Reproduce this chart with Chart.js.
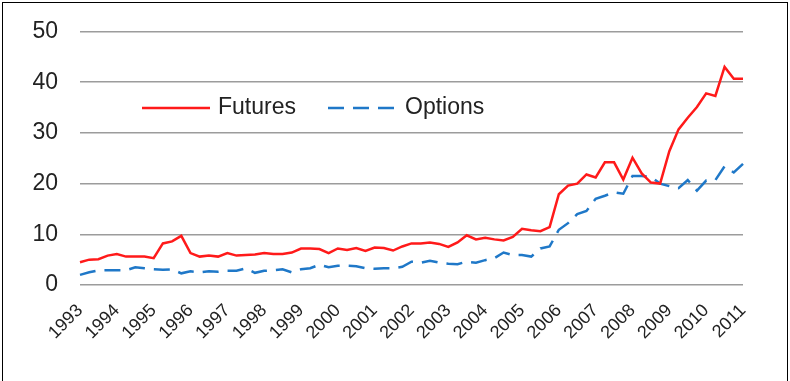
<!doctype html>
<html lang="en">
<head>
    <meta charset="utf-8">
    <title>Futures and Options</title>
    <script src="https://cdn.jsdelivr.net/npm/chart.js@4.4.1/dist/chart.umd.min.js"></script>
    <style>
        html, body { margin: 0; padding: 0; background: #fff; }
        #wrap { position: relative; width: 790px; height: 381px; overflow: hidden; }
        #frame { position: absolute; left: 2px; top: 2px; width: 786px; height: 400px; border: 1.5px solid #000; box-sizing: border-box; }
        #chartCanvas { position: absolute; left: 0; top: 0; }
    </style>
</head>
<body>
<div id="wrap">
    <canvas id="chartCanvas" width="790" height="381"></canvas>
    <div id="frame"></div>
</div>

<script>
    // quarterly, 1993 Q1 .. 2011 Q1
    let years = ['1993', '1994', '1995', '1996', '1997', '1998', '1999', '2000', '2001', '2002',
        '2003', '2004', '2005', '2006', '2007', '2008', '2009', '2010', '2011'];

    let futures = [4.5, 5.0, 5.1, 5.8, 6.1, 5.6, 5.6, 5.6, 5.3, 8.2, 8.6, 9.7, 6.3, 5.6, 5.8, 5.6,
        6.3, 5.8, 5.9, 6.0, 6.3, 6.1, 6.1, 6.4, 7.2, 7.2, 7.1, 6.3, 7.2, 6.9, 7.3, 6.7,
        7.4, 7.3, 6.8, 7.6, 8.2, 8.2, 8.4, 8.1, 7.5, 8.4, 9.8, 9.0, 9.3, 9.0, 8.8, 9.5,
        11.1, 10.8, 10.6, 11.4, 17.9, 19.6, 20.0, 21.8, 21.2, 24.2, 24.2, 20.8, 25.1, 22.0,
        20.2, 20.0, 26.4, 30.7, 33.0, 35.1, 37.8, 37.3, 43.0, 40.7, 40.7];

    let options = [2.0, 2.5, 2.9, 2.9, 2.9, 2.9, 3.5, 3.3, 3.1, 3.0, 3.1, 2.3, 2.7, 2.5, 2.7, 2.6,
        2.8, 2.8, 3.3, 2.4, 2.8, 2.9, 3.1, 2.5, 3.1, 3.3, 4.0, 3.5, 3.8, 3.8, 3.7, 3.3,
        3.2, 3.3, 3.3, 3.6, 4.6, 4.4, 4.8, 4.4, 4.2, 4.1, 4.6, 4.4, 4.9, 5.3, 6.4, 5.9,
        5.9, 5.6, 7.2, 7.6, 10.9, 12.2, 14.0, 14.6, 17.0, 17.6, 18.3, 18.0, 21.5, 21.5,
        21.3, 20.0, 19.5, 19.1, 20.7, 18.6, 20.6, 20.7, 23.4, 22.2, 23.9];

    let yTicks = [0, 10, 20, 30, 40, 50];

    let labels = [];
    for (let i = 0; i < futures.length; i++) {
        labels.push(years[Math.floor(i / 4)] + ' Q' + (i % 4 + 1));
    }

    const FONT = "'Liberation Sans', Arial, sans-serif";
    const RED = '#ff1a1a';
    const BLUE = '#1f78c8';

    // legend sits inside the plot, so draw it by hand
    const insideLegend = {
        id: 'insideLegend',
        afterDraw(chart) {
            let ctx = chart.ctx;
            let y = 108;
            ctx.save();
            ctx.lineWidth = 2.5;
            ctx.strokeStyle = RED;
            ctx.beginPath();
            ctx.moveTo(142, y);
            ctx.lineTo(210, y);
            ctx.stroke();
            ctx.strokeStyle = BLUE;
            ctx.setLineDash([16, 9]);
            ctx.beginPath();
            ctx.moveTo(328, y);
            ctx.lineTo(398, y);
            ctx.stroke();
            ctx.setLineDash([]);
            ctx.fillStyle = '#222';
            ctx.font = '23px ' + FONT;
            ctx.textBaseline = 'middle';
            ctx.fillText('Futures', 218, y);
            ctx.fillText('Options', 405, y);
            ctx.restore();
        }
    };

    new Chart(document.getElementById('chartCanvas'), {
        type: 'line',
        data: {
            labels,
            datasets: [{
                label: 'Futures',
                data: futures,
                borderColor: RED,
                borderWidth: 2.5,
                pointRadius: 0,
                tension: 0,
                fill: false
            }, {
                label: 'Options',
                data: options,
                borderColor: BLUE,
                borderWidth: 2.5,
                borderDash: [16, 9],
                pointRadius: 0,
                tension: 0,
                fill: false
            }]
        },
        options: {
            responsive: false,
            animation: false,
            layout: {
                padding: {left: 0, right: 47, top: 31.5, bottom: 0}
            },
            plugins: {
                legend: {display: false},
                tooltip: {enabled: false}
            },
            scales: {
                x: {
                    offset: false,
                    grid: {display: false},
                    border: {display: false},
                    afterFit: function (scale) {
                        scale.height = 96;
                    },
                    ticks: {
                        autoSkip: false,
                        minRotation: 45,
                        maxRotation: 45,
                        padding: 7,
                        color: '#222',
                        font: {family: FONT, size: 18},
                        callback: function (value, index) {
                            return index % 4 === 0 ? years[index / 4] : '';
                        }
                    }
                },
                y: {
                    min: 0,
                    max: 50,
                    afterBuildTicks: function (scale) {
                        scale.ticks = yTicks.map(v => ({value: v}));
                    },
                    afterFit: function (scale) {
                        scale.width = 80;
                        // tick padding would otherwise push the plot down
                        scale.paddingTop = 0;
                        scale.paddingBottom = 0;
                    },
                    grid: {
                        color: '#9c9c9c',
                        lineWidth: 1.5,
                        drawTicks: false
                    },
                    border: {display: false},
                    ticks: {
                        padding: 22,
                        color: '#222',
                        font: {family: FONT, size: 23}
                    }
                }
            }
        },
        plugins: [insideLegend]
    });
</script>
</body>
</html>
